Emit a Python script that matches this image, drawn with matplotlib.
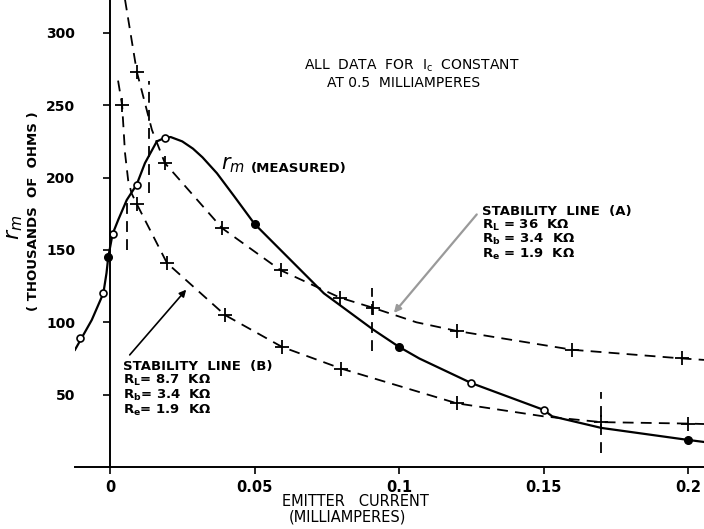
import matplotlib
matplotlib.use('Agg')
import matplotlib.pyplot as plt

# measured r_m curve (emitter current mA, r_m in kOhm)
rm_x = [-0.0121, -0.0063, -0.0023, -0.0012, -0.0006, 0.0009, 0.0029, 0.0058, 0.0092, 0.0121,
        0.0162, 0.019, 0.021, 0.025, 0.0287, 0.032, 0.037, 0.043, 0.05, 0.06,
        0.074, 0.091, 0.1, 0.107, 0.125, 0.15, 0.153, 0.17, 0.2, 0.2055]
rm_y = [81, 101.6, 120, 134, 145, 161, 171, 184.5, 195, 210,
        225, 227.5, 228, 225, 220, 214, 203, 187, 168, 148,
        120, 95, 83, 75, 58, 39.5, 35, 27, 18.7, 17.3]
open_x = [-0.0104, -0.0023, 0.0009, 0.0092, 0.019, 0.125, 0.15]
open_y = [89, 120, 161, 195, 227.5, 58, 39.5]
dot_x = [-0.0006, 0.05, 0.1, 0.2]
dot_y = [145, 168, 83, 18.7]

# stability line (A)
a_x = [0.0052, 0.0093, 0.0145, 0.019, 0.0388, 0.059, 0.0796, 0.091, 0.106, 0.12, 0.16, 0.198, 0.2055]
a_y = [323, 273, 233, 210, 165, 136, 117, 110, 100, 94, 81, 75, 74]
a_px = [0.0093, 0.019, 0.0388, 0.059, 0.0796, 0.091, 0.12, 0.16, 0.198]
a_py = [273, 210, 165, 136, 117, 110, 94, 81, 75]

# stability line (B)
b_x = [0.0028, 0.0042, 0.0052, 0.0063, 0.0075, 0.0092, 0.0197, 0.0398, 0.0595, 0.08,
       0.12, 0.15, 0.17, 0.2, 0.2055]
b_y = [267, 250, 217, 198, 189, 182, 141, 105, 83, 68,
       44, 35, 31, 30, 29.7]
b_px = [0.0042, 0.0092, 0.0197, 0.0398, 0.0595, 0.08, 0.12, 0.17, 0.2]
b_py = [250, 182, 141, 105, 83, 68, 44, 31, 30]

# short vertical dashed marks
v_x = [0.006, 0.0135, 0.0905, 0.17]
v_lo = [150, 189, 80, 10]
v_hi = [186, 267, 124, 52]

x_ticks = [0, 0.05, 0.1, 0.15, 0.2]
x_labels = ['0', '0.05', '0.1', '0.15', '0.2']
y_ticks = [50, 100, 150, 200, 250, 300]

plt.rcParams['font.family'] = ['DejaVu Sans']

fig = plt.figure(figsize=(7.04, 5.29), dpi=100)
ax = fig.add_axes([75 / 704, 62 / 529, 629 / 704, 467 / 529])
ax.set_xlim(-0.0121, 0.2055)
ax.set_ylim(0, 322.7)

ax.spines['left'].set_position(('data', 0))
ax.spines['right'].set_visible(False)
ax.spines['top'].set_visible(False)
ax.spines['left'].set_linewidth(1.4)
ax.spines['bottom'].set_linewidth(1.4)

ax.set_xticks(x_ticks)
ax.set_xticklabels(x_labels)
ax.set_yticks(y_ticks)
ax.tick_params(axis='y', direction='out', length=5, width=1.2, pad=20, labelsize=10)
ax.tick_params(axis='x', direction='out', length=5, width=1.2, pad=4, labelsize=10.5)
for lab in ax.get_xticklabels() + ax.get_yticklabels():
    lab.set_fontweight('bold')

dash = (6, 4)
ax.plot(a_x, a_y, color='black', lw=1.3, dashes=dash)
ax.plot(a_px, a_py, ls='none', marker='+', ms=10, mew=1.3, color='black')
ax.plot(b_x, b_y, color='black', lw=1.3, dashes=dash)
ax.plot(b_px, b_py, ls='none', marker='+', ms=10, mew=1.3, color='black')
for x, lo, hi in zip(v_x, v_lo, v_hi):
    ax.plot([x, x], [lo, hi], color='black', lw=1.3, dashes=dash)

ax.plot(rm_x, rm_y, color='black', lw=1.6)
ax.plot(open_x, open_y, ls='none', marker='o', ms=5, mew=1.2, mfc='white', mec='black')
ax.plot(dot_x, dot_y, ls='none', marker='o', ms=5.5, color='black')

ax.text(0.1045, 277.5, r'ALL  DATA  FOR  $\mathregular{I_c}$  CONSTANT', ha='center', va='center', fontsize=10)
ax.text(0.1015, 265.5, 'AT 0.5  MILLIAMPERES', ha='center', va='center', fontsize=10)
ax.text(0.0384, 209, r'$r_m$', ha='left', va='center', fontsize=15)
ax.text(0.0487, 206, '(MEASURED)', ha='left', va='center', fontsize=9.5, fontweight='bold')

txt_a = ('STABILITY  LINE  (A)\n' + r'$\mathregular{R_L}$ = 36  KΩ' + '\n'
         + r'$\mathregular{R_b}$ = 3.4  KΩ' + '\n' + r'$\mathregular{R_e}$ = 1.9  KΩ')
txt_b = ('STABILITY  LINE  (B)\n' + r'$\mathregular{R_L}$= 8.7  KΩ' + '\n'
         + r'$\mathregular{R_b}$= 3.4  KΩ' + '\n' + r'$\mathregular{R_e}$= 1.9  KΩ')
ax.text(0.1287, 181, txt_a, ha='left', va='top', fontsize=9.5, fontweight='bold', linespacing=0.95)
ax.text(0.0045, 74, txt_b, ha='left', va='top', fontsize=9.5, fontweight='bold', linespacing=1.0)

ax.annotate('', xy=(0.0976, 105), xytext=(0.1275, 176),
            arrowprops=dict(arrowstyle='-|>', color='#9a9a9a', lw=1.6, mutation_scale=10))
ax.annotate('', xy=(0.027, 124), xytext=(0.0062, 76),
            arrowprops=dict(arrowstyle='-|>', color='black', lw=1.2, mutation_scale=10))

fig.text(15 / 704, 1 - 227 / 529, r'$r_m$', rotation=90, ha='center', va='center', fontsize=16)
fig.text(34 / 704, 1 - 211 / 529, '( THOUSANDS  OF  OHMS )', rotation=90, ha='center', va='center',
         fontsize=9.5, fontweight='bold')
fig.text(355 / 704, 1 - 502 / 529, 'EMITTER   CURRENT', ha='center', va='center', fontsize=10.5)
fig.text(347 / 704, 1 - 517 / 529, '(MILLIAMPERES)', ha='center', va='center', fontsize=10.5)

fig.savefig('out.png', dpi=100)
